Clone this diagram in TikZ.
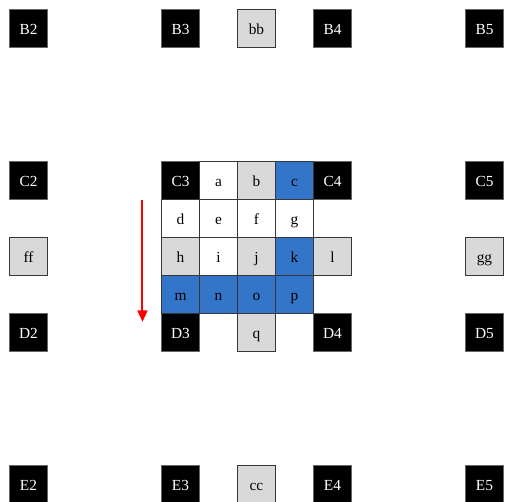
\documentclass[tikz,border=0pt]{standalone}
\usepackage{fontspec}
\setmainfont{Liberation Serif}
\usetikzlibrary{arrows.meta}
\definecolor{cellblue}{RGB}{51, 117, 200}
\definecolor{cellgray}{RGB}{217, 217, 217}
\definecolor{edgegray}{RGB}{55, 55, 55}
\tikzset{
    cell/.style={draw=edgegray, rectangle, minimum size=1cm, inner sep=0pt, line width=0.6pt, text height=2.1ex, text depth=0.2ex, font=\fontsize{11.5}{13}\selectfont},
    whitecell/.style={cell, fill=white},
    graycell/.style={cell, fill=cellgray},
    bluecell/.style={cell, fill=cellblue},
    cornercell/.style={cell, fill=black, draw=black!60, text=white},
    scanarrow/.style={-{Triangle[length=3mm, width=2.6mm]}, line width=1.5pt, draw=red},
}
\begin{document}
\begin{tikzpicture}
    \useasboundingbox (-0.75, 0.75) rectangle (12.54, -12.46);
    % outer corner labels
    \foreach \r/\y in {B/0, C/4, D/8, E/12}
        \foreach \k/\x in {2/0, 3/4, 4/8, 5/12}
            \node[cornercell] (\r\k) at (\x, -\y) {\r\k};
    % outer gray cells
    \node[graycell] (bb) at (6, 0) {bb};
    \node[graycell] (cc) at (6, -12) {cc};
    \node[graycell] (ff) at (0, -6) {ff};
    \node[graycell] (gg) at (12, -6) {gg};
    % inner block
    \node[whitecell] (a) at (5, -4) {a};
    \node[graycell] (b) at (6, -4) {b};
    \node[bluecell] (c) at (7, -4) {c};
    \node[whitecell] (d) at (4, -5) {d};
    \node[whitecell] (e) at (5, -5) {e};
    \node[whitecell] (f) at (6, -5) {f};
    \node[whitecell] (g) at (7, -5) {g};
    \node[graycell] (h) at (4, -6) {h};
    \node[whitecell] (i) at (5, -6) {i};
    \node[graycell] (j) at (6, -6) {j};
    \node[bluecell] (k) at (7, -6) {k};
    \node[graycell] (l) at (8, -6) {l};
    \node[bluecell] (m) at (4, -7) {m};
    \node[bluecell] (n) at (5, -7) {n};
    \node[bluecell] (o) at (6, -7) {o};
    \node[bluecell] (p) at (7, -7) {p};
    \node[graycell] (q) at (6, -8) {q};
    % scan direction
    \coordinate (scanstart) at (3, -4.5);
    \coordinate (scanend) at (3, -7.72);
    \draw[scanarrow] (scanstart) -- (scanend);
\end{tikzpicture}
\end{document}
